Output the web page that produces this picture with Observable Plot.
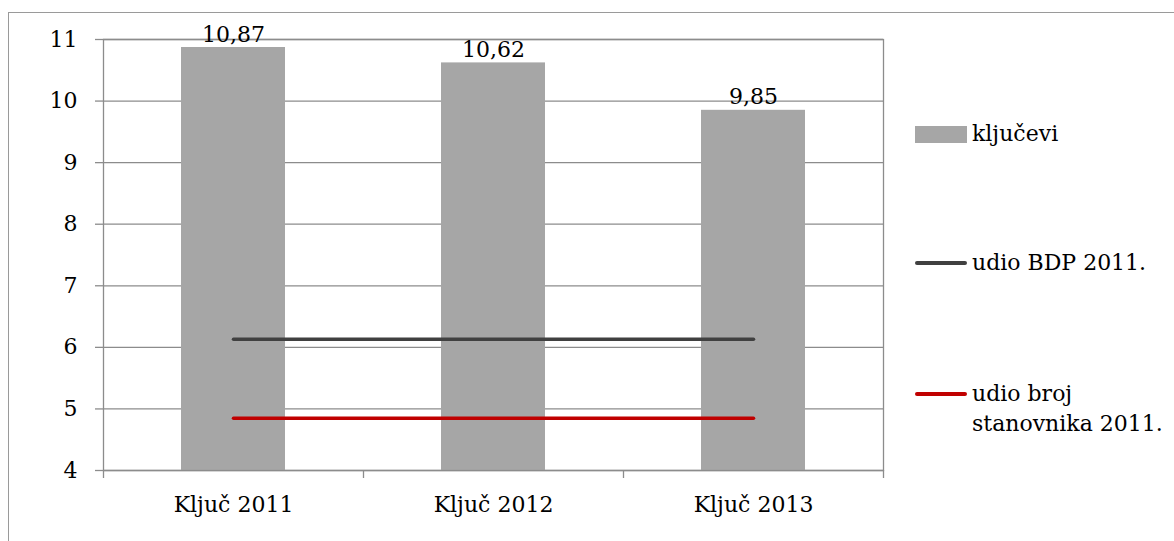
<!DOCTYPE html>
<html>
<head>
<meta charset="utf-8">
<script src="https://cdn.jsdelivr.net/npm/d3@7"></script>
<script src="https://cdn.jsdelivr.net/npm/@observablehq/plot@0.6"></script>
<style>
  html, body { margin: 0; padding: 0; background: #fff; }
  #wrap { position: relative; width: 1174px; height: 541px; overflow: hidden; font-family: "DejaVu Serif", serif; }
  #frame { position: absolute; left: 8px; top: 12px; width: 1400px; height: 800px; border: 1px solid #9a9a9a; box-sizing: border-box; }
  #chart { position: absolute; left: 0; top: 0; }
  .lg { position: absolute; font-size: 22px; color: #000; line-height: 30px; white-space: nowrap; }
  .sw { position: absolute; }
</style>
</head>
<body>
<div id="wrap">
  <div id="frame"></div>
  <div id="chart"></div>
  <div id="legend"></div>
</div>
<script>
// ---- data ----
const categories = ["Ključ 2011", "Ključ 2012", "Ključ 2013"];
const kljucevi = [10.87, 10.62, 9.85];
const udioBDP = [6.13, 6.13, 6.13];
const udioStanovnika = [4.85, 4.85, 4.85];
const yTicks = [4, 5, 6, 7, 8, 9, 10, 11];
const seriesNames = ["ključevi", "udio BDP 2011.", "udio broj stanovnika 2011."];
const seriesColors = ["#a6a6a6", "#404040", "#c00000"];

// ---- layout ----
const W = 1174, H = 541;
const mL = 103, mR = 291, mT = 39, mB = 71;
const step = (W - mL - mR) / categories.length;

const bars = categories.map((c, i) => ({cat: c, value: kljucevi[i]}));
const lines = [
  ...categories.map((c, i) => ({cat: c, series: seriesNames[1], value: udioBDP[i]})),
  ...categories.map((c, i) => ({cat: c, series: seriesNames[2], value: udioStanovnika[i]}))
];
const fmt = v => v.toFixed(2).replace(".", ",");
const gridColor = "#8c8c8c";

const chart = Plot.plot({
  width: W, height: H,
  marginLeft: mL, marginRight: mR, marginTop: mT, marginBottom: mB,
  style: {fontFamily: "DejaVu Serif, serif", fontSize: "22px", color: "#000", background: "transparent"},
  x: {type: "band", domain: categories, paddingInner: 0.6, paddingOuter: 0.3, label: null},
  y: {domain: [yTicks[0], yTicks[yTicks.length - 1]], label: null},
  color: {domain: seriesNames, range: seriesColors},
  marks: [
    Plot.ruleY(yTicks, {stroke: gridColor, strokeWidth: 1.3}),
    Plot.barY(bars, {x: "cat", y1: yTicks[0], y2: "value", fill: seriesColors[0]}),
    Plot.frame({stroke: gridColor, strokeWidth: 1.3}),
    Plot.lineY(lines, {x: "cat", y: "value", z: "series", stroke: "series", strokeWidth: 3.5, strokeLinecap: "round"}),
    Plot.text(bars, {x: "cat", y: "value", text: d => fmt(d.value), dy: -13, fontSize: 22, fill: "#000"}),
    // y axis ticks and labels
    Plot.axisY(yTicks, {tickSize: 8, tickPadding: 18, tickFormat: d => String(d), stroke: gridColor, fill: "#000", strokeWidth: 1.3, fontSize: 22, label: null}),
    // x axis labels
    Plot.axisX({tickSize: 0, tickPadding: 26, fill: "#000", fontSize: 22, label: null}),
    // category boundary ticks
    Plot.ruleX(categories, {x: d => d, y1: yTicks[0], y2: yTicks[0], insetBottom: -8, dx: -step / 2, stroke: gridColor, strokeWidth: 1.3}),
    Plot.ruleX(categories.slice(-1), {x: d => d, y1: yTicks[0], y2: yTicks[0], insetBottom: -8, dx: step / 2, stroke: gridColor, strokeWidth: 1.3})
  ]
});
document.getElementById("chart").appendChild(chart);

// ---- legend (HTML, right side) ----
const legend = document.getElementById("legend");
const items = [
  {name: seriesNames[0], type: "rect", cy: 134, lines: ["ključevi"]},
  {name: seriesNames[1], type: "line", cy: 263, lines: ["udio BDP 2011."]},
  {name: seriesNames[2], type: "line", cy: 394, lines: ["udio broj", "stanovnika 2011."]}
];
items.forEach((it, i) => {
  const sw = document.createElement("div");
  sw.className = "sw";
  sw.style.left = "915px";
  sw.style.width = "52px";
  sw.style.background = seriesColors[i];
  if (it.type === "rect") { sw.style.top = (it.cy - 8) + "px"; sw.style.height = "17px"; }
  else { sw.style.top = (it.cy - 2) + "px"; sw.style.height = "4px"; sw.style.borderRadius = "2px"; }
  legend.appendChild(sw);
  const t = document.createElement("div");
  t.className = "lg";
  t.style.left = "972px";
  t.style.top = (it.cy - 15) + "px";
  t.innerHTML = it.lines.join("<br>");
  legend.appendChild(t);
});
</script>
</body>
</html>
